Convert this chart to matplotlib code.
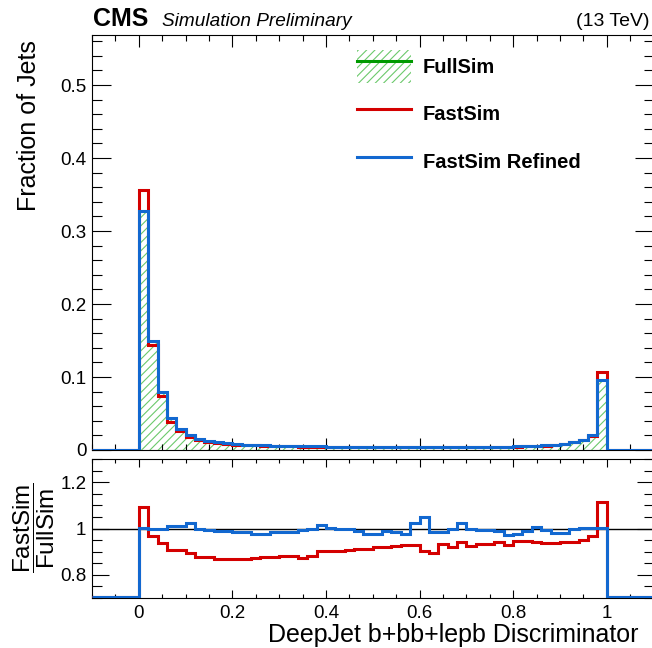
import numpy as np
import matplotlib
matplotlib.use("Agg")
import matplotlib.pyplot as plt
from matplotlib.patches import Patch
from matplotlib.lines import Line2D
from matplotlib.ticker import MultipleLocator, FuncFormatter

plt.rcParams['font.family'] = ['Liberation Sans', 'DejaVu Sans']
plt.rcParams['mathtext.fontset'] = 'custom'
plt.rcParams['mathtext.rm'] = 'Liberation Sans'
plt.rcParams['hatch.linewidth'] = 0.8

# 50 bins of 0.02 on [0, 1]
bin_edges = np.linspace(0, 1, 51)

# FullSim fraction of jets per bin
fullsim = [0.326, 0.149, 0.0795, 0.043, 0.028, 0.0205, 0.0155, 0.0125, 0.0105, 0.009,
           0.0082, 0.0076, 0.0071, 0.0066, 0.0062, 0.0058, 0.0055, 0.0052, 0.005, 0.0048,
           0.0046, 0.0045, 0.0044, 0.0043, 0.0042, 0.0042, 0.0041, 0.0041, 0.0041, 0.0041,
           0.0041, 0.0041, 0.0041, 0.0042, 0.0042, 0.0043, 0.0044, 0.0045, 0.0046, 0.0048,
           0.005, 0.0053, 0.0057, 0.0065, 0.007, 0.009, 0.011, 0.0137, 0.0205, 0.096]

# FastSim / FullSim
ratio_fast = [1.094, 0.967, 0.938, 0.906, 0.906, 0.896, 0.877, 0.877, 0.867, 0.867,
              0.867, 0.868, 0.874, 0.877, 0.877, 0.880, 0.882, 0.873, 0.882, 0.903,
              0.903, 0.903, 0.908, 0.910, 0.913, 0.918, 0.922, 0.925, 0.928, 0.928,
              0.905, 0.893, 0.935, 0.920, 0.942, 0.925, 0.935, 0.935, 0.940, 0.930,
              0.945, 0.945, 0.940, 0.938, 0.938, 0.940, 0.942, 0.952, 0.967, 1.116]

# FastSim Refined / FullSim
ratio_refined = [1.003, 1.0, 1.0, 1.01, 1.012, 1.022, 0.997, 0.995, 0.99, 0.99,
                 0.986, 0.986, 0.975, 0.975, 0.983, 0.983, 0.983, 0.993, 1.0, 1.014,
                 1.003, 1.0, 0.996, 0.99, 0.975, 0.978, 0.99, 0.985, 0.978, 1.022,
                 1.048, 0.983, 0.983, 1.0, 1.025, 1.0, 0.993, 0.993, 0.988, 0.971,
                 0.975, 0.988, 1.007, 0.993, 0.981, 0.981, 0.996, 1.004, 1.004, 1.004]

full = np.array(fullsim)
fast = full * np.array(ratio_fast)
refined = full * np.array(ratio_refined)

# add empty under/overflow region out to the axis limits
xlo, xhi = -0.1, 1.1
edges = np.concatenate([[xlo], bin_edges, [xhi]])
def ext(v):
    return np.concatenate([[0.0], v, [0.0]])

c_red = '#d40000'
c_blue = '#1268d0'
c_green = '#009a00'
c_hatch = '#6cc96c'

fig = plt.figure(figsize=(6.52, 6.48), dpi=100)
ax = fig.add_axes([92/652, 1-450/648, 561.5/652, 415/648])
axr = fig.add_axes([92/652, 1-598/648, 561.5/652, 139/648])

# main panel
ax.stairs(full, bin_edges, fill=True, facecolor='none', edgecolor=c_hatch,
          hatch='////', linewidth=0, zorder=1)
ax.stairs(ext(fast), edges, color=c_red, linewidth=2.2, zorder=2)
ax.stairs(ext(refined), edges, color=c_blue, linewidth=2.2, zorder=3)
ax.set_xlim(xlo, xhi)
ax.set_ylim(0, 0.5685)

# ratio panel (values off the scale sit on the lower frame, as in ROOT)
rlo, rhi = 0.7, 1.3
r_fast = np.clip(ext(np.array(ratio_fast)), rlo + 0.005, rhi)
r_ref = np.clip(ext(np.array(ratio_refined)), rlo + 0.005, rhi)
axr.axhline(1.0, color='black', linewidth=1.0, zorder=1)
axr.stairs(r_fast, edges, baseline=None, color=c_red, linewidth=2.2, zorder=2)
axr.stairs(r_ref, edges, baseline=None, color=c_blue, linewidth=2.2, zorder=3)
axr.set_xlim(xlo, xhi)
axr.set_ylim(rlo, rhi)

fmt = FuncFormatter(lambda v, p: f'{v:g}')
for a in (ax, axr):
    for s in a.spines.values():
        s.set_linewidth(0.8)
        s.set_zorder(0.5)
    a.xaxis.set_major_locator(MultipleLocator(0.2))
    a.xaxis.set_minor_locator(MultipleLocator(0.05))
    a.tick_params(which='both', direction='in', top=True, right=True,
                  width=0.8, labelsize=13.5, pad=4)
ax.yaxis.set_major_locator(MultipleLocator(0.1))
ax.yaxis.set_minor_locator(MultipleLocator(0.02))
ax.tick_params(axis='x', which='major', length=8.6)
ax.tick_params(axis='x', which='minor', length=4.3)
ax.tick_params(axis='y', which='major', length=13.7)
ax.tick_params(axis='y', which='minor', length=7.2)
ax.tick_params(axis='x', labelbottom=False)
ax.yaxis.set_major_formatter(fmt)

axr.yaxis.set_major_locator(MultipleLocator(0.2))
axr.yaxis.set_minor_locator(MultipleLocator(0.05))
axr.tick_params(axis='x', which='major', length=5.8, pad=5)
axr.tick_params(axis='x', which='minor', length=2.9)
axr.tick_params(axis='y', which='major', length=12.2)
axr.tick_params(axis='y', which='minor', length=7.2)
axr.xaxis.set_major_formatter(fmt)
axr.yaxis.set_major_formatter(fmt)

# titles
fig.text(0.045, 1-40/648, 'Fraction of Jets', rotation=90, ha='center', va='top', fontsize=18)
fig.text(0.052, 1-527.5/648, r'$\dfrac{\mathrm{FastSim}}{\mathrm{FullSim}}$', rotation=90,
         ha='center', va='center', fontsize=17.5)
fig.text(638/652, 1-642/648, 'DeepJet b+bb+lepb Discriminator', ha='right', va='baseline', fontsize=18)

fig.text(93/652, 1-26/648, 'CMS', fontsize=18, fontweight='bold', ha='left', va='baseline')
fig.text(162/652, 1-26/648, 'Simulation Preliminary', fontsize=13.7, style='italic',
         ha='left', va='baseline')
fig.text(650/652, 1-26/648, '(13 TeV)', fontsize=14, ha='right', va='baseline')

handles = [(Patch(facecolor='none', edgecolor=c_hatch, hatch='////', linewidth=0),
            Line2D([], [], color=c_green, linewidth=2.2)),
           Line2D([], [], color=c_red, linewidth=2.2),
           Line2D([], [], color=c_blue, linewidth=2.2)]
labels = ['FullSim', 'FastSim', 'FastSim Refined']
fig.legend(handles, labels, loc='upper left', bbox_to_anchor=(357/652, 1-50/648),
           frameon=False, prop={'weight': 'bold', 'size': 14.5}, handlelength=2.68,
           handleheight=2.15, labelspacing=0.72, handletextpad=0.58,
           borderpad=0, borderaxespad=0)

fig.savefig('out.png', dpi=100)
